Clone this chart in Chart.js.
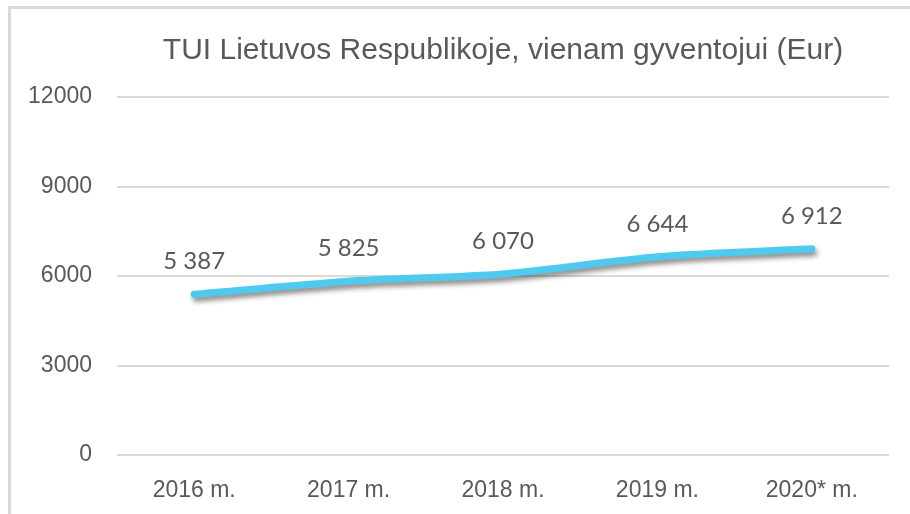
<!DOCTYPE html>
<html>
<head>
<meta charset="utf-8">
<script src="https://cdn.jsdelivr.net/npm/chart.js@4/dist/chart.umd.min.js"></script>
<style>
    html, body { margin: 0; padding: 0; background: #fff; overflow: hidden; }
    #frame {
        position: absolute; left: 8px; top: 6px; width: 1000px; height: 1000px;
        border-left: 3px solid #d9d9d9; border-top: 3px solid #d9d9d9;
    }
    #wrap { position: absolute; left: 0; top: 0; width: 910px; height: 514px; }
</style>
</head>
<body>
<div id="frame"></div>
<div id="wrap"><canvas id="tuiChart"></canvas></div>
<script>
// ---- Data ----
var years = ['2016 m.', '2017 m.', '2018 m.', '2019 m.', '2020* m.'];
var tuiValues = [5387, 5825, 6070, 6644, 6912];
var yTicks = [0, 3000, 6000, 9000, 12000];

var textColor = '#595959';
var tickFont = { family: "'Liberation Sans', sans-serif", size: 23 };

function formatSpaced(v) {
    return String(v).replace(/\B(?=(\d{3})+(?!\d))/g, ' ');
}

// shadow under the line
var lineShadow = {
    id: 'lineShadow',
    beforeDatasetDraw: function (chart) {
        var ctx = chart.ctx;
        ctx.save();
        ctx.shadowColor = 'rgba(0, 0, 0, 0.45)';
        ctx.shadowBlur = 5;
        ctx.shadowOffsetX = 2;
        ctx.shadowOffsetY = 4;
    },
    afterDatasetDraw: function (chart) {
        chart.ctx.restore();
    }
};

// value labels above each point
var valueLabels = {
    id: 'valueLabels',
    afterDatasetsDraw: function (chart) {
        var ctx = chart.ctx;
        var meta = chart.getDatasetMeta(0);
        ctx.save();
        ctx.fillStyle = textColor;
        ctx.font = "24px Lato, 'Open Sans', sans-serif";
        ctx.textAlign = 'center';
        ctx.textBaseline = 'middle';
        meta.data.forEach(function (pt, i) {
            ctx.fillText(formatSpaced(tuiValues[i]), pt.x, pt.y - 33);
        });
        ctx.restore();
    }
};

new Chart(document.getElementById('tuiChart'), {
    type: 'line',
    data: {
        labels: years,
        datasets: [{
            data: tuiValues,
            borderColor: '#4ec9f0',
            borderWidth: 7,
            borderCapStyle: 'round',
            borderJoinStyle: 'round',
            pointRadius: 0,
            pointHoverRadius: 0,
            tension: 0.25,
            fill: false
        }]
    },
    options: {
        responsive: true,
        maintainAspectRatio: false,
        animation: false,
        layout: { padding: { left: 0, right: 21, top: 0, bottom: 0 } },
        plugins: {
            legend: { display: false },
            tooltip: { enabled: false },
            title: {
                display: true,
                fullSize: false,
                text: 'TUI Lietuvos Respublikoje, vienam gyventojui (Eur)',
                color: textColor,
                font: { family: "'Liberation Sans', sans-serif", size: 30, weight: 'normal', lineHeight: 1.2 },
                padding: { top: 33, bottom: 28 }
            }
        },
        scales: {
            x: {
                offset: true,
                grid: { display: false, drawTicks: false },
                border: { display: false },
                ticks: { color: textColor, font: tickFont, padding: 22 },
                afterFit: function (scale) { scale.height = 514 - 455; }
            },
            y: {
                min: 0,
                max: 12000,
                afterBuildTicks: function (scale) {
                    scale.ticks = yTicks.map(function (v) { return { value: v }; });
                },
                grid: { color: '#d9d9d9', lineWidth: 2, drawTicks: false },
                border: { display: false },
                ticks: {
                    color: textColor, font: tickFont, padding: 25,
                    callback: function (v) { return String(v); }
                },
                afterFit: function (scale) { scale.width = 117; }
            }
        }
    },
    plugins: [lineShadow, valueLabels]
});
</script>
</body>
</html>
